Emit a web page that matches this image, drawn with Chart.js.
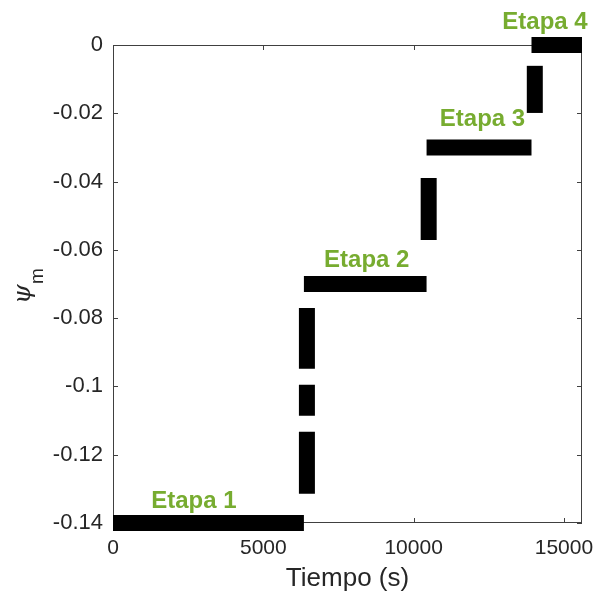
<!DOCTYPE html>
<html>
<head>
<meta charset="utf-8">
<script src="https://cdn.jsdelivr.net/npm/chart.js@4.4.1/dist/chart.umd.min.js"></script>
<style>
  html, body { margin: 0; padding: 0; background: #fff; }
  #psiChart { display: block; }
</style>
</head>
<body>
<canvas id="psiChart" width="597" height="597"></canvas>
<script>
// Stages of the psi_m step profile (time in s)
const stageNames = ["Etapa 1", "Etapa 2", "Etapa 3", "Etapa 4"];
const stageStart = [0, 6350, 10430, 13920];
const stageEnd = [6350, 10430, 13920, 15600];
const stagePsi = [-0.14, -0.07, -0.03, 0];

// dashed transitions between stages
const stepTime = [6450, 10500, 14030];
const stepFrom = [-0.1314, -0.0571, -0.0199];
const stepTo = [-0.0770, -0.0389, -0.0061];

// where the stage labels sit
const labelTime = [2690, 8440, 12290, 14370];
const labelPsi = [-0.1355, -0.0649, -0.0237, 0.0046];

const xTicks = [0, 5000, 10000, 15000];
const yTicks = [0, -0.02, -0.04, -0.06, -0.08, -0.1, -0.12, -0.14];

const axisColor = "#262626";
const green = "#77AC30";

const datasets = [];
stageNames.forEach((name, i) => {
  datasets.push({
    label: name,
    data: [{x: stageStart[i], y: stagePsi[i]}, {x: stageEnd[i], y: stagePsi[i]}],
    borderColor: "#000",
    borderWidth: 16,
    borderCapStyle: "butt",
    pointRadius: 0,
    showLine: true,
    clip: false
  });
});
stepTime.forEach((t, i) => {
  datasets.push({
    label: "paso " + (i + 1),
    data: [{x: t, y: stepFrom[i]}, {x: t, y: stepTo[i]}],
    borderColor: "#000",
    borderWidth: 16,
    borderCapStyle: "butt",
    borderDash: [62, 16, 31, 16],
    pointRadius: 0,
    showLine: true,
    clip: false
  });
});

// box round the plot and inward tick marks, like the original figure
const boxPlugin = {
  id: "box",
  beforeDatasetsDraw(chart) {
    const {ctx, chartArea: a, scales: {x, y}} = chart;
    ctx.save();
    ctx.strokeStyle = "#404040";
    ctx.lineWidth = 1;
    ctx.strokeRect(a.left + 0.5, a.top + 0.5, a.right - a.left - 1, a.bottom - a.top - 1);
    ctx.beginPath();
    x.ticks.forEach(t => {
      const px = Math.round(x.getPixelForValue(t.value)) + 0.5;
      ctx.moveTo(px, a.bottom); ctx.lineTo(px, a.bottom - 5);
      ctx.moveTo(px, a.top); ctx.lineTo(px, a.top + 5);
    });
    y.ticks.forEach(t => {
      const py = Math.round(y.getPixelForValue(t.value)) + 0.5;
      ctx.moveTo(a.left, py); ctx.lineTo(a.left + 5, py);
      ctx.moveTo(a.right, py); ctx.lineTo(a.right - 5, py);
    });
    ctx.stroke();
    ctx.restore();
  },
  afterDatasetsDraw(chart) {
    const {ctx, scales: {x, y}} = chart;
    ctx.save();
    ctx.fillStyle = green;
    ctx.font = 'bold 24px "Liberation Sans", Arial, sans-serif';
    ctx.textAlign = "center";
    ctx.textBaseline = "alphabetic";
    stageNames.forEach((name, i) => {
      ctx.fillText(name, x.getPixelForValue(labelTime[i]), y.getPixelForValue(labelPsi[i]));
    });
    // y axis title: psi with subscript m
    ctx.fillStyle = axisColor;
    ctx.textAlign = "left";
    ctx.save();
    ctx.translate(30, 304);
    ctx.rotate(-Math.PI / 2);
    ctx.font = 'italic 25px "DejaVu Serif", serif';
    ctx.fillText("ψ", 0, 0);
    ctx.restore();
    ctx.save();
    ctx.translate(43, 284);
    ctx.rotate(-Math.PI / 2);
    ctx.font = '19px "Liberation Sans", Arial, sans-serif';
    ctx.fillText("m", 0, 0);
    ctx.restore();
    ctx.restore();
  }
};

const fmt = v => {
  const r = Math.round(v * 100) / 100;
  return r === 0 ? "0" : String(r);
};

new Chart(document.getElementById("psiChart"), {
  type: "scatter",
  data: {datasets},
  options: {
    responsive: false,
    animation: false,
    layout: {padding: {left: 0, right: 15, top: 45, bottom: 0}},
    plugins: {legend: {display: false}, tooltip: {enabled: false}},
    scales: {
      x: {
        type: "linear",
        min: 0,
        max: 15600,
        afterBuildTicks: s => { s.ticks = xTicks.map(v => ({value: v})); },
        afterFit: s => { s.height = 74; s.paddingLeft = 0; s.paddingRight = 0; },
        grid: {display: false, drawTicks: false},
        border: {display: false},
        ticks: {
          padding: 13,
          color: axisColor,
          font: {family: '"Liberation Sans", Arial, sans-serif', size: 21},
          maxRotation: 0,
          callback: v => String(v)
        },
        title: {
          display: true,
          text: "Tiempo (s)",
          color: axisColor,
          font: {family: '"Liberation Sans", Arial, sans-serif', size: 26},
          padding: {top: 0, bottom: 3}
        }
      },
      y: {
        type: "linear",
        min: -0.14,
        max: 0,
        afterBuildTicks: s => { s.ticks = yTicks.map(v => ({value: v})); },
        afterFit: s => { s.width = 113; },
        grid: {display: false, drawTicks: false},
        border: {display: false},
        ticks: {
          padding: 10,
          color: axisColor,
          font: {family: '"Liberation Sans", Arial, sans-serif', size: 22},
          callback: v => fmt(v)
        }
      }
    }
  },
  plugins: [boxPlugin]
});
</script>
</body>
</html>
